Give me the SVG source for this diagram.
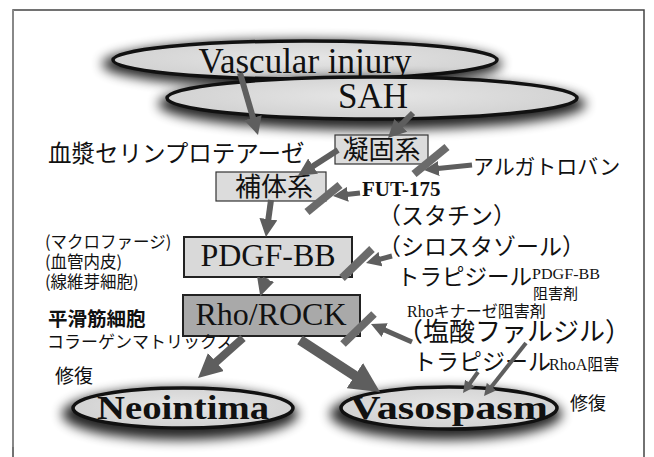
<svg xmlns="http://www.w3.org/2000/svg" width="654" height="457" viewBox="0 0 654 457">
<defs>
<style>
.jp{font-family:"Noto Sans CJK JP","Noto Sans",sans-serif;fill:#111}
.sf{font-family:"Liberation Serif","Times New Roman",serif;fill:#111}
.ell{fill:url(#eg);stroke:#111;stroke-width:3.5}
.shd{fill:#000;opacity:0.85;filter:url(#blur)}
.box{fill:#dcdcdc;stroke:#333;stroke-width:1.2}
.box2{fill:#d9d9d9;stroke:#222;stroke-width:2}
.box3{fill:#a9a9a9;stroke:#222;stroke-width:2}
.arr{stroke:#5e5e5e;fill:none;marker-end:url(#ah)}
.bar{stroke:#6b6b6b;stroke-width:8;fill:none}
</style>
<radialGradient id="eg" cx="50%" cy="45%" r="60%">
<stop offset="0" stop-color="#e6e6e6"/>
<stop offset="1" stop-color="#cfcfcf"/>
</radialGradient>
<filter id="blur" x="-30%" y="-80%" width="160%" height="260%">
<feGaussianBlur stdDeviation="6"/>
</filter>
<marker id="ah" viewBox="0 0 10 10" refX="4" refY="5" markerWidth="3" markerHeight="3" orient="auto" markerUnits="strokeWidth">
<path d="M0,0 L10,5 L0,10 z" fill="#5e5e5e"/>
</marker>
</defs>
<rect width="654" height="457" fill="#fff"/>
<path d="M13,457 V10 H644 V457" fill="none" stroke="#444" stroke-width="1.5"/>
<line x1="13" y1="10" x2="13" y2="447" stroke="#888" stroke-width="2"/>

<g id="vascular-injury">
<ellipse class="shd" cx="302" cy="64" rx="200" ry="24"/>
<ellipse class="ell" cx="305" cy="60" rx="192" ry="19"/>
<text class="sf" x="305" y="73" font-size="35" text-anchor="middle">Vascular injury</text>
</g>
<g id="sah">
<ellipse class="shd" cx="372" cy="104" rx="214" ry="26"/>
<ellipse class="ell" cx="372" cy="98" rx="205" ry="21"/>
<text class="sf" x="373" y="108" font-size="35" text-anchor="middle">SAH</text>
</g>

<g id="plasma-serine-protease"><text class="jp" x="48" y="162" font-size="23.5">血漿セリンプロテアーゼ</text></g>
<g id="coagulation">
<rect class="box" x="335" y="135" width="93" height="29"/>
<text class="jp" x="381.5" y="159" font-size="26" text-anchor="middle">凝固系</text>
</g>
<g id="complement">
<rect class="box" x="216" y="172" width="110" height="29"/>
<text class="jp" x="274" y="196" font-size="26" text-anchor="middle">補体系</text>
</g>
<g id="pdgf-bb">
<rect class="box2" x="184" y="237" width="168" height="40"/>
<text class="sf" x="268" y="266" font-size="32" text-anchor="middle">PDGF-BB</text>
</g>
<g id="rho-rock">
<rect class="box3" x="183" y="295" width="177" height="41"/>
<text class="sf" x="271" y="325" font-size="32" text-anchor="middle">Rho/ROCK</text>
</g>
<g id="neointima">
<ellipse class="shd" cx="180" cy="414" rx="118" ry="26"/>
<ellipse class="ell" cx="183" cy="408" rx="110" ry="20"/>
<text class="sf" x="183" y="419" font-size="33" font-weight="bold" text-anchor="middle" textLength="172" lengthAdjust="spacingAndGlyphs">Neointima</text>
</g>
<g id="vasospasm">
<ellipse class="shd" cx="446" cy="414" rx="116" ry="26"/>
<ellipse class="ell" cx="449" cy="408" rx="108" ry="21"/>
<text class="sf" x="449" y="419" font-size="33" font-weight="bold" text-anchor="middle" textLength="198" lengthAdjust="spacingAndGlyphs">Vasospasm</text>
</g>

<g id="left-labels">
<text class="jp" x="45" y="248" font-size="16.5">(マクロファージ)</text>
<text class="jp" x="45" y="268" font-size="16.5">(血管内皮)</text>
<text class="jp" x="45" y="288" font-size="16.5">(線維芽細胞)</text>
<text class="jp" x="48" y="326" font-size="19.5" font-weight="bold">平滑筋細胞</text>
<text class="jp" x="47" y="348" font-size="17">コラーゲンマトリックス</text>
<text class="jp" x="55" y="383" font-size="19">修復</text>
</g>
<g id="right-labels">
<text class="jp" x="473" y="174" font-size="21">アルガトロバン</text>
<text class="sf" x="362" y="196" font-size="21" font-weight="bold">FUT-175</text>
<text class="jp" x="378" y="224" font-size="23">（スタチン）</text>
<text class="jp" x="378" y="255" font-size="23">（シロスタゾール）</text>
<text class="jp" x="397" y="285" font-size="22.5">トラピジール</text>
<text class="sf" x="532" y="279" font-size="14" textLength="68" lengthAdjust="spacingAndGlyphs">PDGF-BB</text>
<text class="jp" x="533" y="299" font-size="15">阻害剤</text>
<text x="407" y="317" font-size="16"><tspan class="sf">Rho</tspan><tspan class="jp">キナーゼ阻害剤</tspan></text>
<text class="jp" x="397" y="341" font-size="26">（塩酸ファルジル）</text>
<text class="jp" x="413" y="370" font-size="23">トラピジール</text>
<text x="549" y="370" font-size="16"><tspan class="sf">RhoA</tspan><tspan class="jp">阻害</tspan></text>
<text class="jp" x="570" y="410" font-size="18">修復</text>
</g>

<g id="connectors">
<line class="arr" x1="240" y1="73" x2="255" y2="124.6" stroke-width="6"/>
<line class="arr" x1="413" y1="113" x2="395.6" y2="130.4" stroke-width="6"/>
<line class="arr" x1="338" y1="150" x2="307" y2="170" stroke-width="6"/>
<line class="arr" x1="271" y1="200" x2="267.4" y2="226.3" stroke-width="6"/>
<line class="arr" x1="266" y1="278" x2="263.5" y2="286" stroke-width="6"/>
<line class="arr" x1="243" y1="338" x2="208.8" y2="368.4" stroke-width="8"/>
<line class="arr" x1="300" y1="340" x2="364.9" y2="382.2" stroke-width="10"/>
<line class="arr" x1="472" y1="165" x2="432.9" y2="169.1" stroke-width="5"/>
<line class="arr" x1="360" y1="193" x2="341.9" y2="195" stroke-width="5"/>
<line class="arr" x1="392" y1="256" x2="374.7" y2="260.7" stroke-width="5"/>
<line class="arr" x1="412" y1="342" x2="379.2" y2="327.6" stroke-width="5"/>
<line class="arr" x1="526" y1="343" x2="488.5" y2="390.4" stroke-width="4"/>
<line class="arr" x1="478" y1="372" x2="467.2" y2="387.1" stroke-width="4"/>
<line class="bar" x1="414" y1="174" x2="447" y2="147"/>
<line class="bar" x1="307" y1="212" x2="340" y2="185"/>
<line class="bar" x1="342" y1="278" x2="372" y2="249"/>
<line class="bar" x1="343" y1="344" x2="374" y2="314"/>
</g>
</svg>
